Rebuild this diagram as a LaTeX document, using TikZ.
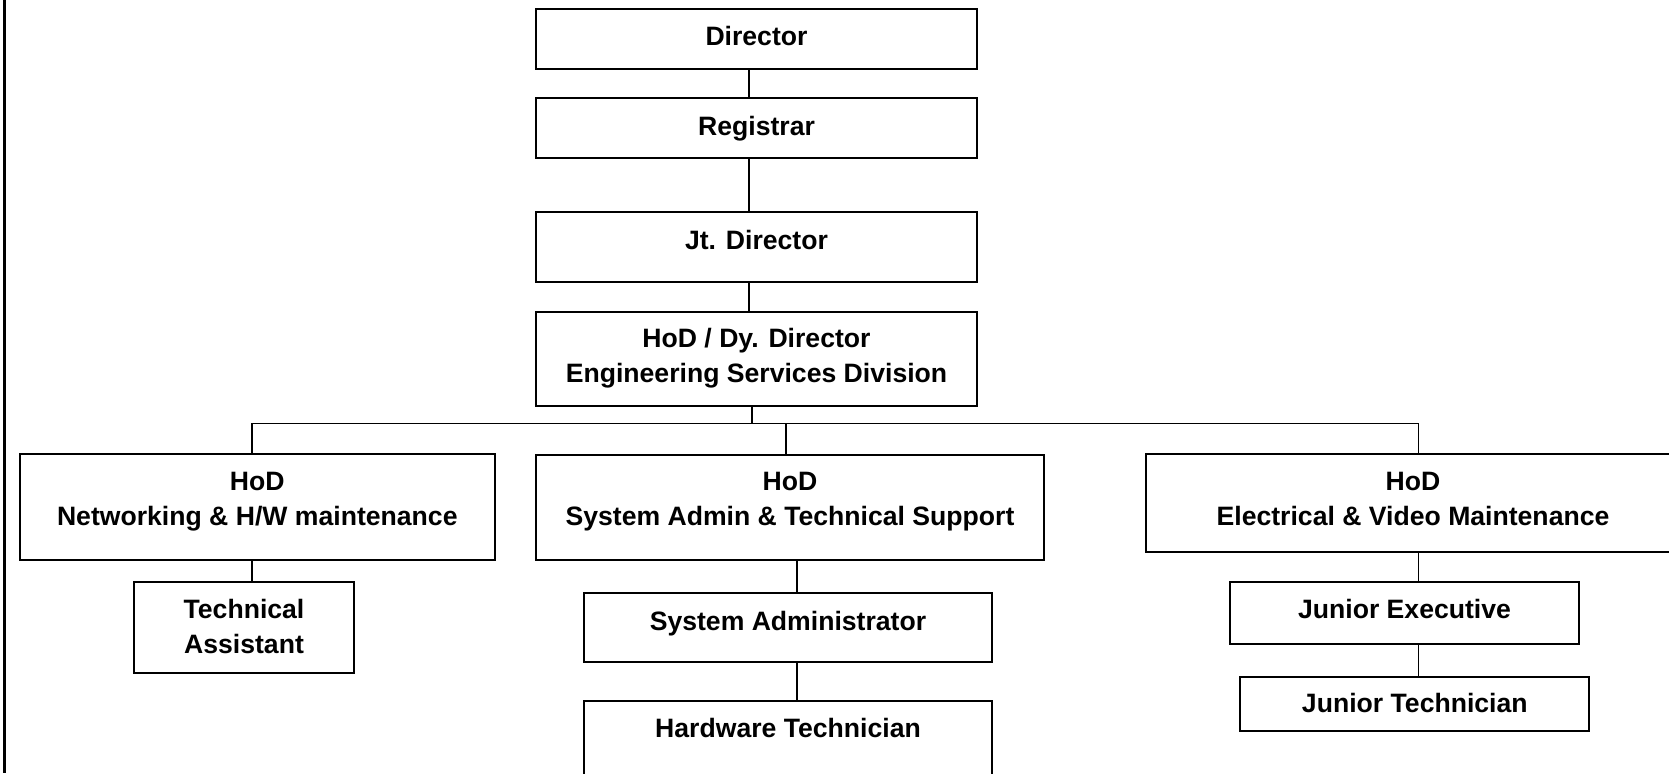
\documentclass[tikz,border=0pt]{standalone}
\usepackage{fontspec}
\setmainfont{Liberation Sans}
\begin{document}
\begin{tikzpicture}[x=0.5pt, y=-0.5pt,
    office/.style={draw, line width=0.9pt, align=center, inner sep=0pt,
      font=\fontsize{13.3pt}{17.5pt}\selectfont\bfseries,
      text height=9.5pt, text depth=#1},
    office/.default=0pt,
    twolines/.style={text height=27pt},
    link/.style={line width=0.65pt}]
  \useasboundingbox (0, 0) rectangle (1669, 773);
  \draw[line width=1.25pt] (4.3, 0) -- (4.3, 773);
  % chain at the top
  \node[office=2.8pt, minimum width=220.5pt, minimum height=30pt] (director) at (756.5, 39) {Director};
  \node[office=2.5pt, minimum width=220.5pt, minimum height=30pt] (registrar) at (756.5, 128) {Registrar};
  \node[office=7.3pt, minimum width=220.5pt, minimum height=35pt] (jtdir) at (756.5, 247) {Jt. Director};
  \node[office=3.5pt, twolines, minimum width=220.5pt, minimum height=47pt] (hod) at (756.5, 359)
    {HoD / Dy. Director\\Engineering Services Division};
  % the three divisions
  \node[office=8.5pt, twolines, minimum width=237.35pt, minimum height=53pt] (netw) at (257.3, 507.3)
    {HoD\\Networking \& H/W maintenance};
  \node[office=9pt, twolines, minimum width=254pt, minimum height=52.5pt] (sahod) at (790, 507.5)
    {HoD\\System Admin \& Technical Support};
  \node[office=4.2pt, twolines, minimum width=267pt, minimum height=48.7pt] (elec) at (1413, 503)
    {HoD\\Electrical \& Video Maintenance};
  % staff
  \node[office=1.2pt, twolines, minimum width=110pt, minimum height=45.5pt] (techasst) at (244, 627.2)
    {Technical\\Assistant};
  \node[office=6.3pt, minimum width=204pt, minimum height=34.5pt] (sysadm) at (788, 627.5) {System Administrator};
  \node[office=17.7pt, minimum width=204pt, minimum height=44.5pt] (hwtech) at (788, 745.5) {Hardware Technician};
  \node[office=3.5pt, minimum width=174.2pt, minimum height=31pt] (junexec) at (1404.5, 612.7) {Junior Executive};
  \node[office=0.9pt, minimum width=174.5pt, minimum height=27pt] (juntech) at (1414.8, 703.7) {Junior Technician};
  % connectors
  \coordinate (bus) at (0, 423.3);
  \foreach \a/\b/\s in {director/registrar/-3.75pt, registrar/jtdir/-3.75pt, jtdir/hod/-3.75pt,
      netw/techasst/-2.65pt, sahod/sysadm/3.5pt, sysadm/hwtech/4.5pt, junexec/juntech/7.1pt}
    \draw[link] ([xshift=\s]\a.south) -- ([xshift=\s]\a.south |- \b.north);
  \draw[link] ([xshift=-2.25pt]hod.south) -- ([xshift=-2.25pt]hod.south |- bus);
  \draw[link] ([xshift=-2.65pt]netw.north) |- ([xshift=2.85pt]elec.north |- bus)
    -- ([xshift=2.85pt]elec.north);
  \draw[link] ([xshift=-2pt]sahod.north) -- ([xshift=-2pt]sahod.north |- bus);
  \draw[link] ([xshift=7.1pt]junexec.north |- elec.south) -- ([xshift=7.1pt]junexec.north);
\end{tikzpicture}
\end{document}
